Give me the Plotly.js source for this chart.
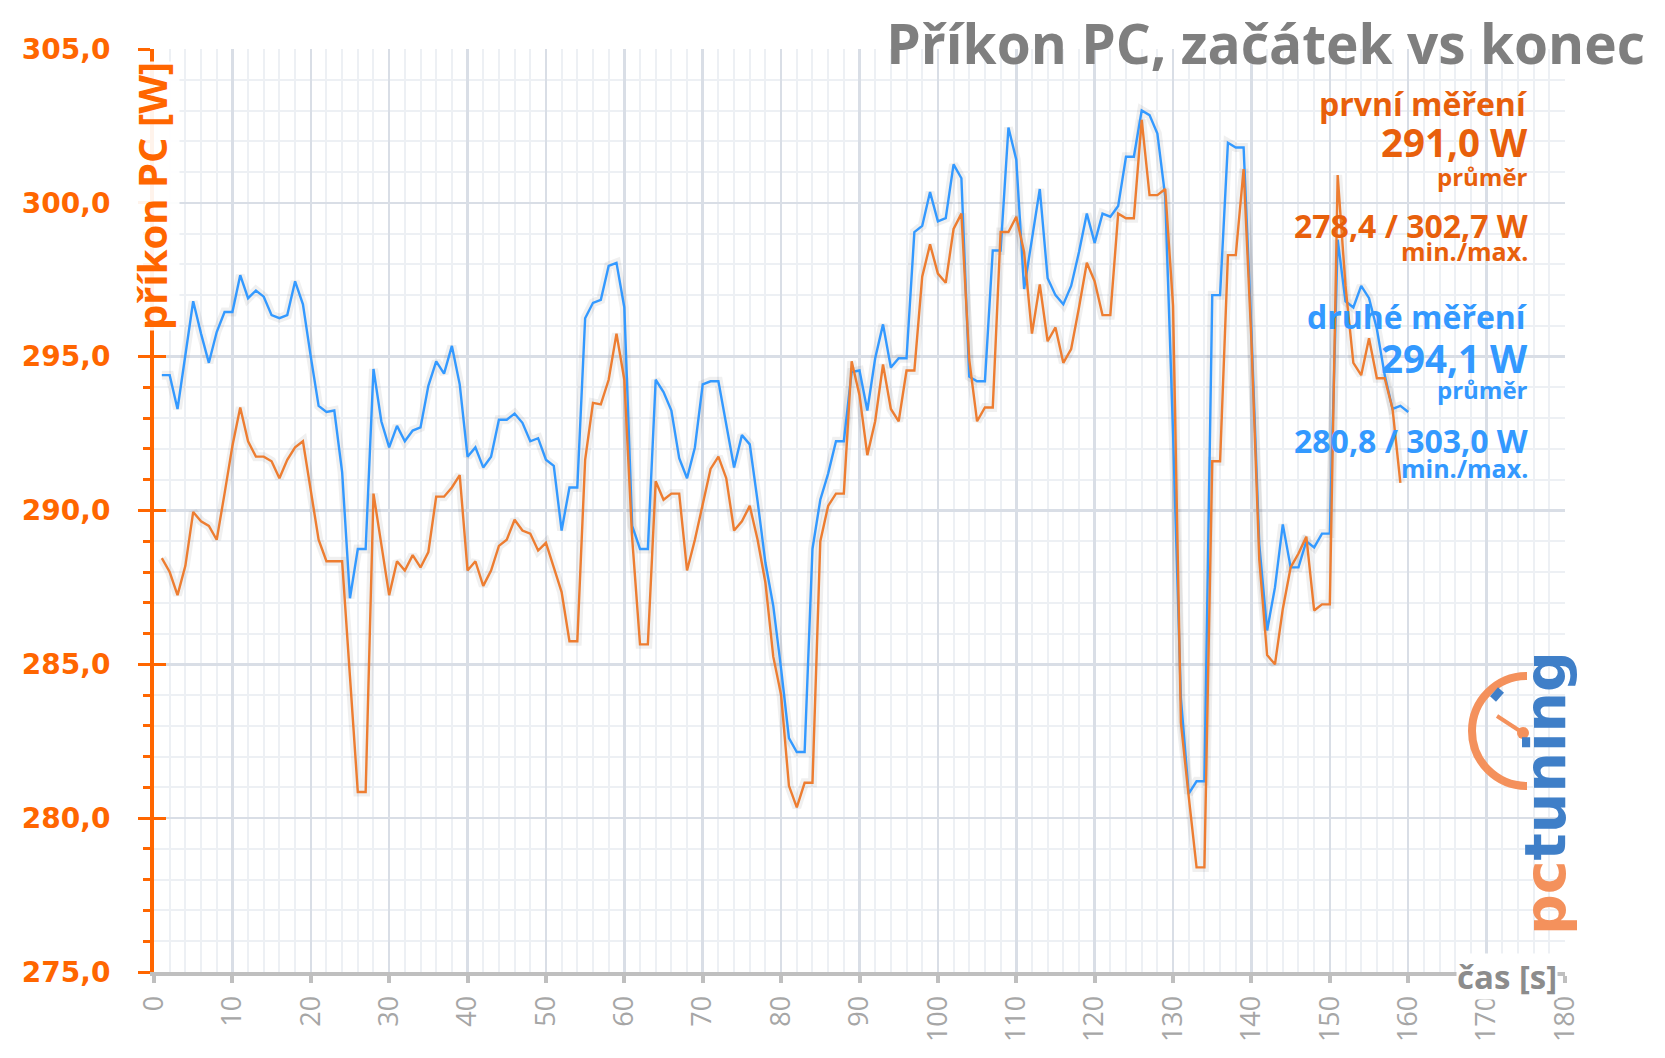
<!DOCTYPE html>
<html>
<head>
<meta charset="utf-8">
<script src="https://cdn.plot.ly/plotly-3.0.1.min.js"></script>
<style>html,body{margin:0;padding:0;background:#fff;}#chart{width:1665px;height:1058px;}</style>
</head>
<body>
<div id="chart"></div>
<script>
// time stamps [s]
const seconds = [1,2,3,4,5,6,7,8,9,10,11,12,13,14,15,16,17,18,19,20,
21,22,23,24,25,26,27,28,29,30,31,32,33,34,35,36,37,38,39,40,
41,42,43,44,45,46,47,48,49,50,51,52,53,54,55,56,57,58,59,60,
61,62,63,64,65,66,67,68,69,70,71,72,73,74,75,76,77,78,79,80,
81,82,83,84,85,86,87,88,89,90,91,92,93,94,95,96,97,98,99,100,
101,102,103,104,105,106,107,108,109,110,111,112,113,114,115,116,117,118,119,120,
121,122,123,124,125,126,127,128,129,130,131,132,133,134,135,136,137,138,139,140,
141,142,143,144,145,146,147,148,149,150,151,152,153,154,155,156,157,158,159,160];

// první měření (orange) – W
const prvniMereni = [288.45,288.0,287.25,288.2,289.95,289.65,289.5,289.05,290.55,292.1,
293.35,292.25,291.75,291.75,291.6,291.05,291.65,292.05,292.25,290.65,
289.05,288.35,288.35,288.35,284.6,280.85,280.85,290.55,288.9,287.25,
288.35,288.05,288.55,288.15,288.65,290.45,290.45,290.75,291.15,288.05,
288.35,287.55,288.05,288.85,289.05,289.7,289.35,289.25,288.7,288.95,
288.15,287.35,285.75,285.75,291.65,293.5,293.45,294.25,295.75,294.25,
289.1,285.65,285.65,290.95,290.35,290.55,290.55,288.05,289.05,290.2,
291.35,291.75,291.05,289.35,289.65,290.15,289.05,287.65,285.25,284.0,
281.05,280.35,281.15,281.15,289.0,290.15,290.55,290.55,294.85,293.75,
291.8,292.9,294.75,293.3,292.9,294.55,294.55,297.6,298.65,297.7,
297.4,299.15,299.65,294.9,292.9,293.35,293.35,299.05,299.05,299.55,
298.4,295.75,297.35,295.5,295.95,294.8,295.25,296.6,298.05,297.45,
296.35,296.35,299.65,299.5,299.5,302.7,300.25,300.25,300.45,296.65,
283.1,280.7,278.4,278.4,291.6,291.6,298.3,298.3,301.1,295.5,
288.4,285.3,285.0,286.8,288.15,288.6,289.15,286.75,286.95,286.95,
300.9,297.3,294.8,294.4,295.6,294.3,294.3,293.3,290.9];

// druhé měření (blue) – W
const druheMereni = [294.4,294.4,293.3,295.0,296.8,295.75,294.8,295.8,296.45,296.45,
297.65,296.9,297.15,296.95,296.35,296.25,296.35,297.45,296.7,295.0,
293.4,293.2,293.25,291.25,287.15,288.75,288.75,294.6,292.9,292.05,
292.75,292.25,292.6,292.7,294.05,294.85,294.45,295.35,294.1,291.75,
292.05,291.4,291.75,292.95,292.95,293.15,292.85,292.25,292.35,291.65,
291.45,289.35,290.75,290.75,296.25,296.75,296.85,297.95,298.05,296.6,
289.5,288.75,288.75,294.25,293.85,293.25,291.7,291.05,292.05,294.1,
294.2,294.2,292.75,291.4,292.45,292.15,290.3,288.3,286.9,284.85,
282.6,282.15,282.15,288.75,290.35,291.2,292.25,292.25,294.5,294.55,
293.25,294.95,296.05,294.65,294.95,294.95,299.05,299.25,300.35,299.4,
299.5,301.25,300.8,294.35,294.2,294.2,298.45,298.45,302.45,301.4,
297.2,298.85,300.45,297.55,297.0,296.7,297.3,298.4,299.65,298.7,
299.65,299.55,299.9,301.5,301.5,303.0,302.85,302.25,300.2,292.5,
283.9,280.8,281.2,281.2,297.0,297.0,301.95,301.8,301.8,295.8,
288.9,286.1,287.5,289.55,288.15,288.15,289.0,288.8,289.25,289.25,
298.8,296.8,296.6,297.3,296.9,295.9,294.4,293.3,293.4,293.2];

const yTicks = [275,280,285,290,295,300,305];
const xTicks = [0,10,20,30,40,50,60,70,80,90,100,110,120,130,140,150,160,170,180];

const ORANGE_AXIS = '#FF6600';
const ORANGE_LINE = '#ED7D31';
const ORANGE_TEXT = '#E8600C';
const BLUE = '#3399FF';

const xOrange = seconds.slice(0, prvniMereni.length);

const traces = [
  {x: xOrange, y: prvniMereni, type:'scatter', mode:'lines', yaxis:'y',
   line:{color:'rgba(0,0,0,0.06)', width:9}, hoverinfo:'skip', showlegend:false},
  {x: seconds, y: druheMereni, type:'scatter', mode:'lines', yaxis:'y',
   line:{color:'rgba(0,0,0,0.06)', width:9}, hoverinfo:'skip', showlegend:false},
  {x: seconds, y: druheMereni, type:'scatter', mode:'lines', yaxis:'y2', name:'druhé měření',
   line:{color:BLUE, width:2.4}, showlegend:false},
  {x: xOrange, y: prvniMereni, type:'scatter', mode:'lines', yaxis:'y2', name:'první měření',
   line:{color:ORANGE_LINE, width:2.4}, showlegend:false}
];

const L = 154, R = 100, T = 49, B = 86, W = 1665, H = 1058;
const pw = W - L - R, ph = H - T - B;
const px = v => (v - L) / pw;          // pixel -> paper x
const py = v => (H - B - v) / ph;      // pixel -> paper y

const txt = (text, yPix, size, color) => ({
  text, x: px(1530), y: py(yPix), xref:'paper', yref:'paper',
  xanchor:'right', yanchor:'middle', showarrow:false,
  font:{family:'Open Sans', size, color, weight:700}
});

// logo geometry (decoration)
const cx = px(1527), cy = py(731), rx = 55/pw, ry = 55/ph, k = 0.5523;
const arcPath = `M ${cx},${cy+ry} C ${cx-k*rx},${cy+ry} ${cx-rx},${cy+k*ry} ${cx-rx},${cy} C ${cx-rx},${cy-k*ry} ${cx-k*rx},${cy-ry} ${cx},${cy-ry}`;

const layout = {
  width: W, height: H,
  margin:{l:L, r:R, t:T, b:B, pad:0},
  paper_bgcolor:'#ffffff', plot_bgcolor:'#ffffff',
  separators: ',.',
  showlegend:false,
  title:{text:'Příkon PC, začátek vs konec', x:1645/W, xanchor:'right', xref:'container',
         y:1-45/H, yanchor:'middle', yref:'container',
         font:{family:'Open Sans', size:55, color:'#7F7F7F', weight:700}},
  xaxis:{range:[0,180], tickvals:xTicks, ticktext:xTicks.map(String), tickangle:-90,
         showline:true, linecolor:'#BFBFBF', linewidth:4,
         ticks:'outside', ticklen:7, tickwidth:4, tickcolor:'#BFBFBF',
         showgrid:true, gridcolor:'#D9DEE6', gridwidth:2.5, zeroline:false,
         minor:{dtick:2, showgrid:true, gridcolor:'#EDF0F4', gridwidth:2, ticks:''},
         tickfont:{family:'Open Sans', size:27, color:'#A6A6A6'}, ticklabelstandoff:2,
         fixedrange:true},
  yaxis:{range:[275,305], tickvals:yTicks, tickformat:'.1f',
         showline:true, linecolor:ORANGE_AXIS, linewidth:4,
         ticks:'outside', ticklen:12, tickwidth:3, tickcolor:ORANGE_AXIS,
         showgrid:true, gridcolor:'#D9DEE6', gridwidth:2.5, zeroline:false,
         minor:{dtick:1, ticks:'outside', ticklen:7, tickwidth:3, tickcolor:ORANGE_AXIS,
                showgrid:true, gridcolor:'#EDF0F4', gridwidth:2},
         tickfont:{family:'DejaVu Sans', size:28, color:ORANGE_AXIS, weight:700},
         ticklabelstandoff:22, fixedrange:true},
  yaxis2:{range:[275,305], overlaying:'y', side:'left', anchor:'x', tickvals:yTicks,
          ticks:'inside', ticklen:12, tickwidth:3, tickcolor:ORANGE_AXIS,
          showticklabels:false, showgrid:false, zeroline:false, showline:false, fixedrange:true},
  annotations:[
    {text:'příkon PC [W]', textangle:-90, x:px(151), y:py(196), xref:'paper', yref:'paper',
     xanchor:'center', yanchor:'middle', showarrow:false, bgcolor:'rgba(255,255,255,0.92)', borderpad:0,
     font:{family:'Open Sans', size:40, color:ORANGE_AXIS, weight:700}},
    {text:'čas [s]', x:px(1507), y:py(977), xref:'paper', yref:'paper', xanchor:'center', yanchor:'middle',
     showarrow:false, bgcolor:'#ffffff', borderpad:0,
     font:{family:'Open Sans', size:33, color:'#8C8C8C', weight:700}},
    txt('první měření', 104, 32, ORANGE_TEXT),
    txt('291,0 W', 142, 38.5, ORANGE_TEXT),
    txt('průměr', 176, 24, ORANGE_TEXT),
    txt('278,4 / 302,7 W', 225, 32, ORANGE_TEXT),
    txt('min./max.', 251, 25, ORANGE_TEXT),
    txt('druhé měření', 316, 32, BLUE),
    txt('294,1 W', 358, 38.5, BLUE),
    txt('průměr', 389, 24, BLUE),
    txt('280,8 / 303,0 W', 440, 32, BLUE),
    txt('min./max.', 468, 25, BLUE),
    {text:'<span style="color:#F4915C">pc</span><span style="color:#3F7FC8">tuning</span>',
     textangle:-90, x:px(1545), y:py(793), xref:'paper', yref:'paper', xanchor:'center', yanchor:'middle',
     showarrow:false, font:{family:'DejaVu Sans', size:57, weight:700}}
  ],
  shapes:[
    {type:'path', path:arcPath, xref:'paper', yref:'paper', line:{color:'#F4915C', width:8}, layer:'above'},
    {type:'line', xref:'paper', yref:'paper', x0:px(1523), y0:py(733), x1:px(1497), y1:py(716),
     line:{color:'#F4915C', width:4}, layer:'above'},
    {type:'circle', xref:'paper', yref:'paper', x0:px(1517), y0:py(727), x1:px(1529), y1:py(739),
     fillcolor:'#F4915C', line:{width:0}, layer:'above'},
    {type:'line', xref:'paper', yref:'paper', x0:px(1493), y0:py(699), x1:px(1501), y1:py(690),
     line:{color:'#3F7FC8', width:8}, layer:'above'}
  ]
};

Plotly.newPlot('chart', traces, layout, {displayModeBar:false, staticPlot:true});
</script>
</body>
</html>
